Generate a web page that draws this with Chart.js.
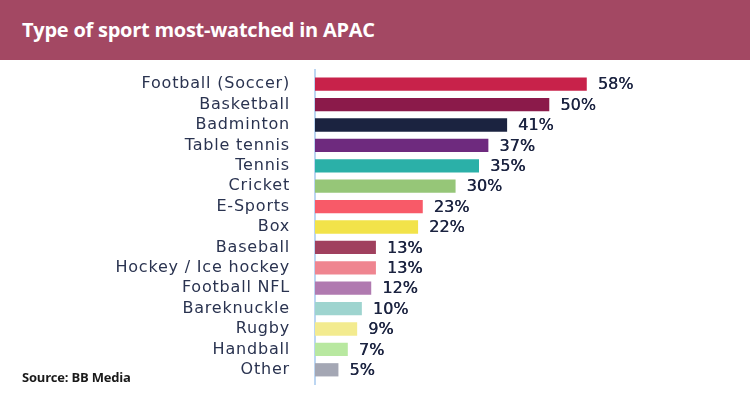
<!DOCTYPE html>
<html><head><meta charset="utf-8">
<script src="https://cdn.jsdelivr.net/npm/chart.js@4"></script>
<style>
html,body{margin:0;padding:0;background:#fff;width:750px;height:400px;overflow:hidden;position:relative;}
#hdr{position:absolute;left:0;top:0;width:750px;height:60px;background:#A34863;}
#title{position:absolute;left:22px;top:16px;color:#fff;font:bold 20px "Open Sans",sans-serif;white-space:nowrap;letter-spacing:-0.25px;}
#src{position:absolute;left:22px;top:368px;color:#1a1a1a;font:bold 13px "Open Sans",sans-serif;white-space:nowrap;letter-spacing:-0.2px;}
canvas{position:absolute;left:0;top:0;}
</style></head>
<body>
<div id="hdr"></div>
<div id="title">Type of sport most-watched in APAC</div>
<canvas id="c" width="750" height="400"></canvas>
<div id="src">Source: BB Media</div>
<script>
const categories = ["Football (Soccer)","Basketball","Badminton","Table tennis","Tennis","Cricket","E-Sports","Box","Baseball","Hockey / Ice hockey","Football NFL","Bareknuckle","Rugby","Handball","Other"];
const values = [58,50,41,37,35,30,23,22,13,13,12,10,9,7,5];
const barColors = ["#C8224A","#8B1A4A","#1B2340","#6E2A7E","#2BB0A8","#96C678","#F85A68","#F2E34A","#A0405E","#EF8590","#B07AB0","#9ED4CF","#F3EB8F","#B8E8A0","#A4A7B4"];
const valueLabels = values.map(v => v + "%");

const spacingPlugin = {
  id: 'spacing',
  beforeDraw(chart) { chart.ctx.letterSpacing = '0.8px'; },
  afterDraw(chart) { chart.ctx.letterSpacing = '0px'; }
};

const axisLinePlugin = {
  id: 'axisline',
  beforeDatasetsDraw(chart) {
    const ctx = chart.ctx, a = chart.chartArea;
    ctx.save();
    ctx.strokeStyle = '#BCD6F2';
    ctx.lineWidth = 2;
    ctx.beginPath();
    ctx.moveTo(a.left, a.top - 5);
    ctx.lineTo(a.left, a.bottom + 5);
    ctx.stroke();
    ctx.restore();
  }
};

const labelPlugin = {
  id: 'vlabels',
  afterDatasetsDraw(chart) {
    const ctx = chart.ctx;
    const meta = chart.getDatasetMeta(0);
    ctx.save();
    ctx.letterSpacing = '0px';
    ctx.font = '16px "DejaVu Sans", sans-serif';
    ctx.fillStyle = '#1B2340';
    ctx.textAlign = 'left';
    ctx.textBaseline = 'middle';
    meta.data.forEach((bar, i) => {
      ctx.fillText(valueLabels[i], bar.x + 11, bar.y + 1);
      ctx.fillText(valueLabels[i], bar.x + 11.4, bar.y + 1);
    });
    ctx.restore();
  }
};

new Chart(document.getElementById('c'), {
  type: 'bar',
  data: {
    labels: categories,
    datasets: [{
      data: values,
      backgroundColor: barColors,
      borderWidth: 0,
      categoryPercentage: 0.65,
      barPercentage: 1.0
    }]
  },
  options: {
    indexAxis: 'y',
    responsive: false,
    animation: false,
    devicePixelRatio: 1,
    layout: { padding: { left: 0, top: 74, bottom: 20, right: 107 } },
    plugins: { legend: { display: false }, tooltip: { enabled: false } },
    scales: {
      x: { min: 0, max: 70, display: false },
      y: {
        afterFit(scale) { scale.width = 315; scale.paddingTop = 0; scale.paddingBottom = 0; },
        grid: { display: false, drawTicks: false },
        border: { display: false },
        ticks: { autoSkip: false, padding: 25, color: '#2A3350', font: { family: '"DejaVu Sans", sans-serif', size: 16 } }
      }
    }
  },
  plugins: [spacingPlugin, axisLinePlugin, labelPlugin]
});
</script>
</body></html>
